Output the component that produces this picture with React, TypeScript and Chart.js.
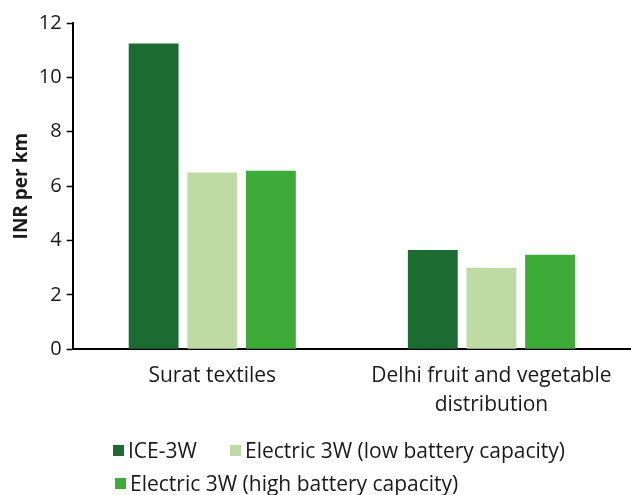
import React, { useEffect, useRef } from "react";
import { Chart, registerables } from "chart.js";

Chart.register(...registerables);

const categories: (string | string[])[] = ["Surat textiles", ["Delhi fruit and vegetable", "distribution"]];
const seriesNames = ["ICE-3W", "Electric 3W (low battery capacity)", "Electric 3W (high battery capacity)"];
const iceValues = [11.25, 3.65];
const lowBatteryValues = [6.5, 3.0];
const highBatteryValues = [6.57, 3.48];
const seriesColors = ["#1c6b32", "#bedba5", "#3dab37"];
const yTicks = [0, 2, 4, 6, 8, 10, 12];

const FONT = "'Open Sans', 'Noto Sans', sans-serif";

export default function App() {
  const ref = useRef<HTMLCanvasElement>(null);
  useEffect(() => {
    if (!ref.current) return;
    const chart = new Chart(ref.current, {
      type: "bar",
      data: {
        labels: categories,
        datasets: [iceValues, lowBatteryValues, highBatteryValues].map((d, i) => ({
          label: seriesNames[i],
          data: d,
          backgroundColor: seriesColors[i],
          borderWidth: 0,
          categoryPercentage: 0.63,
          barPercentage: 0.85,
        })),
      },
      options: {
        animation: false,
        responsive: false,
        maintainAspectRatio: false,
        layout: { padding: { top: 23, right: 0, bottom: 5, left: 10 } },
        plugins: { legend: { display: false }, tooltip: { enabled: false } },
        scales: {
          x: {
            grid: { display: false, drawTicks: false },
            border: { color: "#000", width: 2 },
            ticks: {
              color: "#1a1a1a",
              font: { family: FONT, size: 21, lineHeight: 1.35 },
              padding: 13,
              maxRotation: 0,
            },
          },
          y: {
            min: 0,
            max: 12,
            afterBuildTicks: (s: any) => {
              s.ticks = yTicks.map((v) => ({ value: v }));
            },
            grid: { drawOnChartArea: false, color: "#000", tickLength: 6, tickWidth: 1.5 },
            border: { color: "#000", width: 2 },
            ticks: { color: "#1a1a1a", font: { family: FONT, size: 20 }, padding: 5 },
            title: {
              display: true,
              text: "INR per km",
              color: "#1a1a1a",
              font: { family: FONT, size: 19, weight: "bold" },
              padding: { top: 0, bottom: 1 },
            },
          },
        },
      },
    });
    return () => chart.destroy();
  }, []);

  const legendItem = (i: number, left: number, top: number) => (
    <div
      key={i}
      style={{ position: "absolute", left, top, display: "flex", alignItems: "center", whiteSpace: "nowrap" }}
    >
      <span style={{ display: "inline-block", width: 11, height: 11, background: seriesColors[i], marginRight: 4 }} />
      <span style={{ fontFamily: FONT, fontSize: 21, color: "#1a1a1a", lineHeight: "28px" }}>{seriesNames[i]}</span>
    </div>
  );

  return (
    <div style={{ position: "absolute", left: 0, top: 0, width: 631, height: 495, background: "#fff" }}>
      <canvas ref={ref} width={631} height={437} style={{ position: "absolute", left: 0, top: 0 }} />
      {legendItem(0, 113, 436)}
      {legendItem(1, 230, 436)}
      {legendItem(2, 115, 469)}
    </div>
  );
}
